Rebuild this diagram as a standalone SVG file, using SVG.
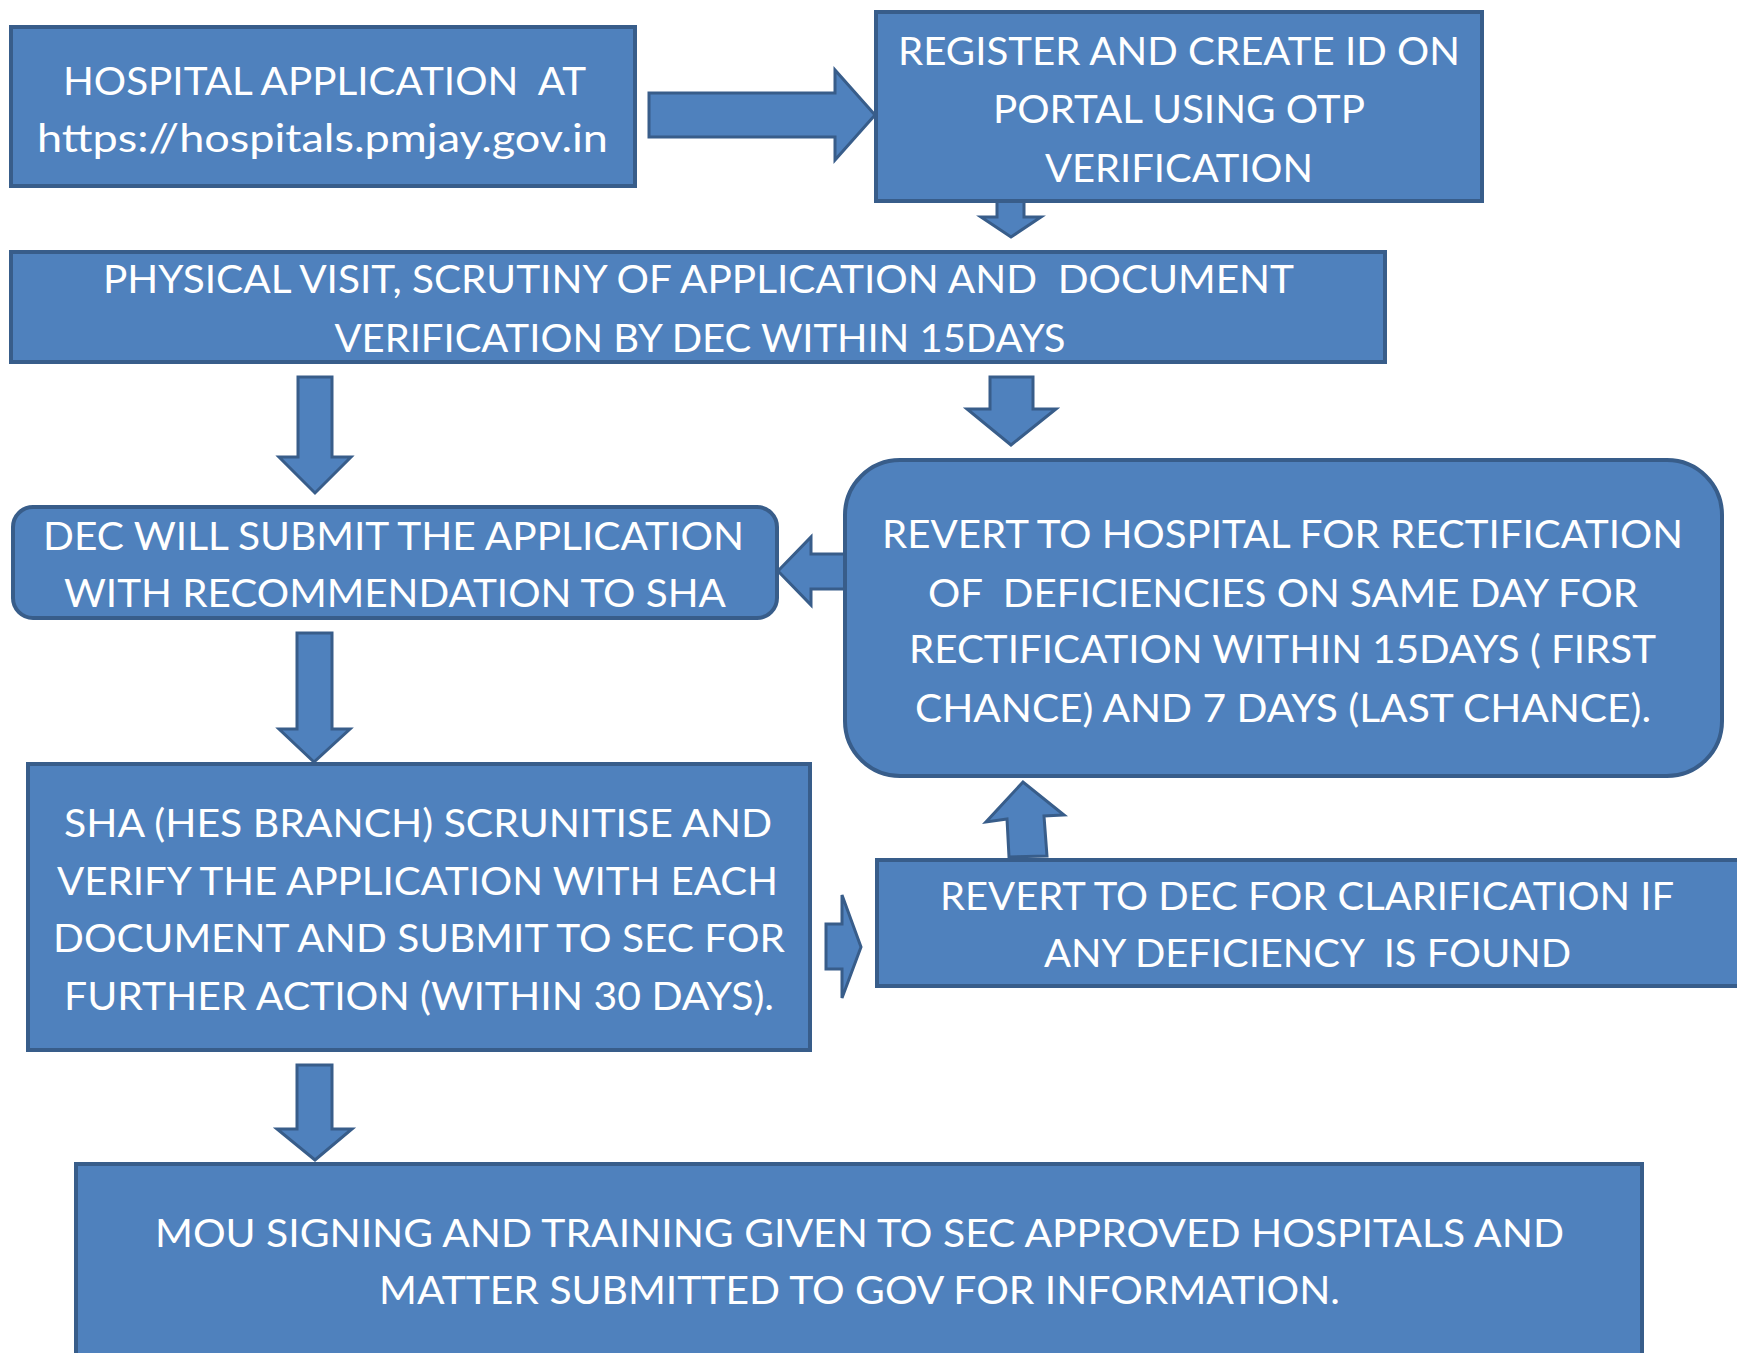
<svg xmlns="http://www.w3.org/2000/svg" width="1737" height="1353" viewBox="0 0 1737 1353">
<style>
.box{fill:#4F81BD;stroke:#385D8A;stroke-width:4}
.arr{fill:#4F81BD;stroke:#385D8A;stroke-width:3;stroke-linejoin:miter}
.t{fill:#FFFFFF;font-family:Lato,"Liberation Sans",sans-serif;font-size:38px;text-anchor:middle;white-space:pre}
</style>
<rect width="1737" height="1353" fill="#FFFFFF"/>
<g id="connectors">
<polygon class="arr" points="649,93 835,93 835,70 875,115 835,160 835,137 649,137"/>
<polygon class="arr" points="997,200 1024,200 1024,217 1041,217 1011,237 981,217 997,217"/>
<polygon class="arr" points="298,377 332,377 332,457 351,457 315,493 279,457 298,457"/>
<polygon class="arr" points="990,377 1033,377 1033,409 1056,409 1011,445 967,409 990,409"/>
<polygon class="arr" points="845,554 811,554 811,537 778,571 811,605 811,589 845,589"/>
<polygon class="arr" points="297,633 332,633 332,729 350,729 314,762 279,729 297,729"/>
<polygon class="arr" points="826,924 842,924 842,895 861,947 842,998 842,969 826,969"/>
<polygon class="arr" points="1009,857 1047,856 1044,816 1064,815 1023,782 986,822 1007,819"/>
<polygon class="arr" points="297,1065 332,1065 332,1129 352,1129 315,1160 277,1129 297,1129"/>
</g>
<g id="n1">
<rect class="box" x="11" y="27" width="624" height="159"/>
<text class="t" x="324.5" y="95" textLength="523" lengthAdjust="spacingAndGlyphs" xml:space="preserve">HOSPITAL APPLICATION  AT</text>
<text class="t" x="322.5" y="152" textLength="571" lengthAdjust="spacingAndGlyphs">https://hospitals.pmjay.gov.in</text>
</g>
<g id="n2">
<rect class="box" x="876" y="12" width="606" height="189"/>
<text class="t" x="1179" y="65" textLength="562" lengthAdjust="spacingAndGlyphs">REGISTER AND CREATE ID ON</text>
<text class="t" x="1179" y="123" textLength="372" lengthAdjust="spacingAndGlyphs">PORTAL USING OTP</text>
<text class="t" x="1179" y="182" textLength="268" lengthAdjust="spacingAndGlyphs">VERIFICATION</text>
</g>
<g id="n3">
<rect class="box" x="11" y="252" width="1374" height="110"/>
<text class="t" x="698.5" y="293" textLength="1191" lengthAdjust="spacingAndGlyphs" xml:space="preserve">PHYSICAL VISIT, SCRUTINY OF APPLICATION AND  DOCUMENT</text>
<text class="t" x="700" y="352" textLength="731" lengthAdjust="spacingAndGlyphs">VERIFICATION BY DEC WITHIN 15DAYS</text>
</g>
<g id="n4">
<rect class="box" x="845" y="460" width="877" height="316" rx="55" ry="55"/>
<text class="t" x="1282.5" y="548" textLength="801" lengthAdjust="spacingAndGlyphs">REVERT TO HOSPITAL FOR RECTIFICATION</text>
<text class="t" x="1283" y="607" textLength="710" lengthAdjust="spacingAndGlyphs" xml:space="preserve">OF  DEFICIENCIES ON SAME DAY FOR</text>
<text class="t" x="1282.5" y="663" textLength="747" lengthAdjust="spacingAndGlyphs">RECTIFICATION WITHIN 15DAYS ( FIRST</text>
<text class="t" x="1283" y="722" textLength="736" lengthAdjust="spacingAndGlyphs">CHANCE) AND 7 DAYS (LAST CHANCE).</text>
</g>
<g id="n5">
<rect class="box" x="13" y="507" width="764" height="111" rx="20" ry="20"/>
<text class="t" x="393.5" y="550" textLength="701" lengthAdjust="spacingAndGlyphs">DEC WILL SUBMIT THE APPLICATION</text>
<text class="t" x="395" y="607" textLength="662" lengthAdjust="spacingAndGlyphs">WITH RECOMMENDATION TO SHA</text>
</g>
<g id="n6">
<rect class="box" x="28" y="764" width="782" height="286"/>
<text class="t" x="418" y="837" textLength="708" lengthAdjust="spacingAndGlyphs">SHA (HES BRANCH) SCRUNITISE AND</text>
<text class="t" x="417.5" y="895" textLength="721" lengthAdjust="spacingAndGlyphs">VERIFY THE APPLICATION WITH EACH</text>
<text class="t" x="419" y="952" textLength="732" lengthAdjust="spacingAndGlyphs">DOCUMENT AND SUBMIT TO SEC FOR</text>
<text class="t" x="419" y="1010" textLength="710" lengthAdjust="spacingAndGlyphs">FURTHER ACTION (WITHIN 30 DAYS).</text>
</g>
<g id="n7">
<rect class="box" x="877" y="860" width="866" height="126"/>
<text class="t" x="1307" y="910" textLength="734" lengthAdjust="spacingAndGlyphs">REVERT TO DEC FOR CLARIFICATION IF</text>
<text class="t" x="1307.5" y="967" textLength="527" lengthAdjust="spacingAndGlyphs" xml:space="preserve">ANY DEFICIENCY  IS FOUND</text>
</g>
<g id="n8">
<rect class="box" x="76" y="1164" width="1566" height="200"/>
<text class="t" x="859.5" y="1247" textLength="1409" lengthAdjust="spacingAndGlyphs">MOU SIGNING AND TRAINING GIVEN TO SEC APPROVED HOSPITALS AND</text>
<text class="t" x="859.5" y="1304" textLength="961" lengthAdjust="spacingAndGlyphs">MATTER SUBMITTED TO GOV FOR INFORMATION.</text>
</g>
</svg>
